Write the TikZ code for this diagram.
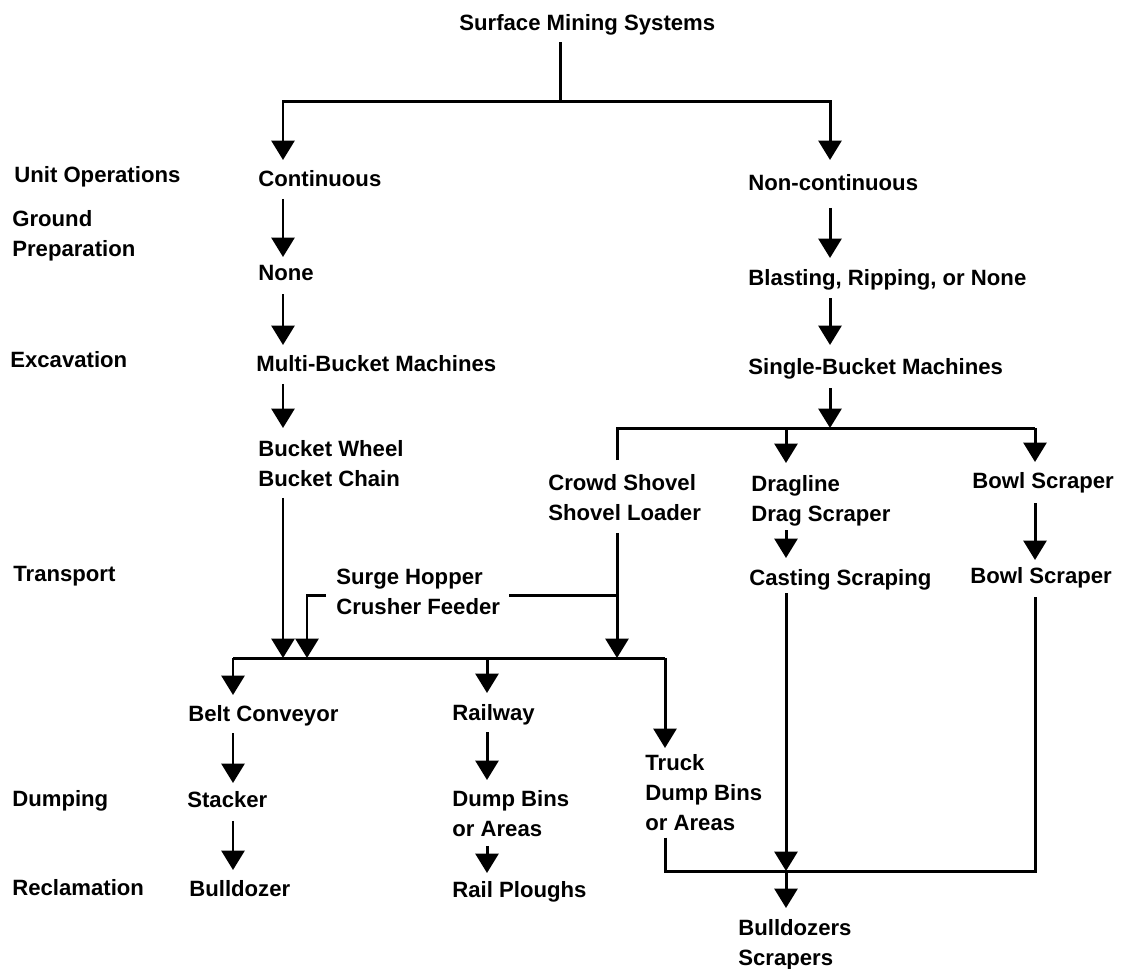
\documentclass[tikz,border=0pt]{standalone}
\usepackage{fontspec}
\setmainfont{Liberation Sans}
\usetikzlibrary{arrows.meta,calc}

\begin{document}
\begin{tikzpicture}[x=0.02cm, y=-0.02cm,
    txt/.style={anchor=north west, inner sep=0pt, align=left, font=\fontsize{12.6pt}{17pt}\selectfont\bfseries},
    wire/.style={line width=1.7pt},
    arr/.style={line width=1.7pt, -{Triangle[width=13pt, length=11pt]}}]
    \useasboundingbox (0,0) rectangle (1121,968);

    \node[txt] (title) at (459,14) {Surface Mining Systems};

    \node[txt] (unitop) at (14,166) {Unit Operations};
    \node[txt] (groundprep) at (12,210) {Ground\\Preparation};
    \node[txt] (excav) at (10,351) {Excavation};
    \node[txt] (transp) at (13,566) {Transport};
    \node[txt] (dumping) at (12,790) {Dumping};
    \node[txt] (reclam) at (12,879) {Reclamation};

    \node[txt] (cont) at (258,170) {Continuous};
    \node[txt] (none) at (258,265) {None};
    \node[txt] (multi) at (256,355) {Multi-Bucket Machines};
    \node[txt] (wheel) at (258,440) {Bucket Wheel\\Bucket Chain};
    \node[txt] (surge) at (336,569) {Surge Hopper\\Crusher Feeder};
    \node[txt] (belt) at (188,705) {Belt Conveyor};
    \node[txt] (stacker) at (187,791) {Stacker};
    \node[txt] (dozer) at (189,880) {Bulldozer};
    \node[txt] (railway) at (452,704) {Railway};
    \node[txt] (dump) at (452,790) {Dump Bins\\or Areas};
    \node[txt] (ploughs) at (452,881) {Rail Ploughs};
    \node[txt] (truck) at (645,754) {Truck\\Dump Bins\\or Areas};
    \node[txt] (dozers) at (738,919) {Bulldozers\\Scrapers};

    \node[txt] (noncont) at (748,174) {Non-continuous};
    \node[txt] (blast) at (748,269) {Blasting, Ripping, or None};
    \node[txt] (single) at (748,358) {Single-Bucket Machines};
    \node[txt] (crowd) at (548,474) {Crowd Shovel\\Shovel Loader};
    \node[txt] (drag) at (751,475) {Dragline\\Drag Scraper};
    \node[txt] (bowlA) at (972,472) {Bowl Scraper};
    \node[txt] (casting) at (749,569) {Casting Scraping};
    \node[txt] (bowlB) at (970,567) {Bowl Scraper};

    \coordinate (split) at (560,101);
    \coordinate (colA) at (283,0);
    \coordinate (colB) at (830,0);
    \coordinate (colC) at (617,0);
    \coordinate (colD) at (786,0);
    \coordinate (colE) at (1035,0);
    \coordinate (colF) at (233,0);
    \coordinate (colG) at (487,0);
    \coordinate (colH) at (665,0);
    \coordinate (feed) at (307,0);
    \coordinate (shovhub) at (617,428);
    \coordinate (bowlhub) at (1035,428);
    \coordinate (belthub) at (233,658);
    \coordinate (truckhub) at (665,658);
    \coordinate (truckbot) at (665,871);
    \coordinate (bowlbot) at (1035,871);

    \draw[wire] (title.south -| split) ++(0,7) -- (split);
    \draw[arr] (split) -| ($(cont.north -| colA)+(0,-10)$);
    \draw[arr] (split) -| ($(noncont.north -| colB)+(0,-14)$);

    \draw[arr] ($(cont.south -| colA)+(0,12)$) -- ($(none.north -| colA)+(0,-8)$);
    \draw[arr] ($(none.south -| colA)+(0,13)$) -- ($(multi.north -| colA)+(0,-10)$);
    \draw[arr] ($(multi.south -| colA)+(0,12)$) -- ($(wheel.north -| colA)+(0,-12)$);
    \draw[arr] ($(wheel.south -| colA)+(0,11)$) -- (colA |- belthub);

    \draw[arr] ($(noncont.south -| colB)+(0,17)$) -- ($(blast.north -| colB)+(0,-11)$);
    \draw[arr] ($(blast.south -| colB)+(0,8)$) -- ($(single.north -| colB)+(0,-13)$);
    \draw[arr] ($(single.south -| colB)+(0,9)$) -- (colB |- shovhub);
    \draw[wire] ($(crowd.north -| colC)+(0,-14)$) |- (bowlhub);
    \draw[arr] (colD |- shovhub) -- ($(drag.north -| colD)+(0,-12)$);
    \draw[arr] (bowlhub) -- ($(bowlA.north -| colE)+(0,-10)$);
    \draw[arr] ($(drag.south -| colD)+(0,4)$) -- ($(casting.north -| colD)+(0,-11)$);
    \draw[arr] ($(bowlA.south -| colE)+(0,10)$) -- ($(bowlB.north -| colE)+(0,-7)$);

    \draw[arr] ($(crowd.south -| colC)+(0,12)$) -- (colC |- belthub);
    \draw[wire] ($(surge.east)+(9,3)$) -- ($(colC |- surge.east)+(0,3)$);
    \draw[arr] ($(surge.west)+(-10,3)$) -| (feed |- belthub);

    \draw[wire] (belthub) -- (truckhub);
    \draw[arr] (belthub) -- ($(belt.north -| colF)+(0,-10)$);
    \draw[arr] (colG |- belthub) -- ($(railway.north -| colG)+(0,-11)$);
    \draw[arr] (truckhub) -- ($(truck.north -| colH)+(0,-6)$);
    \draw[arr] ($(belt.south -| colF)+(0,7)$) -- ($(stacker.north -| colF)+(0,-8)$);
    \draw[arr] ($(stacker.south -| colF)+(0,13)$) -- ($(dozer.north -| colF)+(0,-10)$);
    \draw[arr] ($(railway.south -| colG)+(0,7)$) -- ($(dump.north -| colG)+(0,-10)$);
    \draw[arr] ($(dump.south -| colG)+(0,9)$) -- ($(ploughs.north -| colG)+(0,-8)$);

    \draw[wire] ($(truck.south -| colH)+(0,7)$) -- (truckbot) -- (bowlbot) -- ($(bowlB.south -| colE)+(0,9)$);
    \draw[arr] ($(casting.south -| colD)+(0,3)$) -- (colD |- truckbot);
    \draw[arr] (colD |- truckbot) -- ($(dozers.north -| colD)+(0,-11)$);
\end{tikzpicture}
\end{document}
